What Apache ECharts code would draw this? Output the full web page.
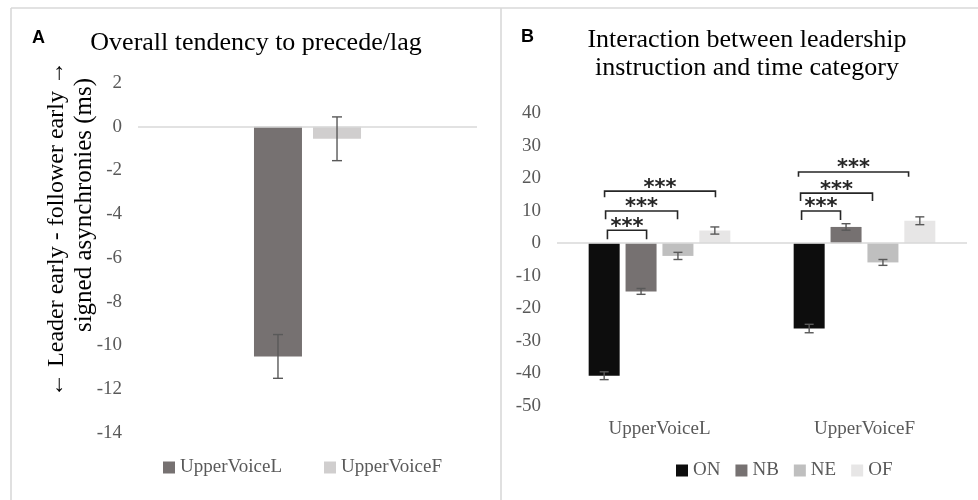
<!DOCTYPE html>
<html>
<head>
<meta charset="utf-8">
<script src="https://cdn.jsdelivr.net/npm/echarts@6/dist/echarts.min.js"></script>
<style>
html,body{margin:0;padding:0;background:#ffffff;}
#chart{width:978px;height:500px;}
</style>
</head>
<body>
<div id="chart"></div>
<script>
// ---------- Panel A data ----------
const panelACategories = [''];
const panelASeriesNames = ['UpperVoiceL', 'UpperVoiceF'];
const panelAMeans = [-10.5, -0.55];
const panelAErrors = [1.0, 1.0];
const panelAMin = -14, panelAMax = 2, panelAInterval = 2;

// ---------- Panel B data ----------
const panelBCategories = ['UpperVoiceL', 'UpperVoiceF'];
const panelBSeriesNames = ['ON', 'NB', 'NE', 'OF'];
const onMeans = [-40.7, -26.2];
const nbMeans = [-14.8, 5.0];
const neMeans = [-3.9, -5.9];
const ofMeans = [3.9, 6.9];
const onErrors = [1.2, 1.3];
const nbErrors = [0.9, 1.0];
const neErrors = [1.1, 0.9];
const ofErrors = [1.1, 1.2];
const panelBMin = -50, panelBMax = 40, panelBInterval = 10;

// ---------- Panel B significance brackets (category index, ends as fraction of category band, levels in ms) ----------
const sigCategory = [0, 0, 0, 1, 1, 1];
const sigFrom = [-0.254, -0.263, -0.268, -0.307, -0.312, -0.322];
const sigTo = [-0.063, 0.088, 0.273, -0.117, 0.039, 0.215];
const sigTop = [4.0, 9.9, 16.0, 9.9, 15.4, 21.9];
const sigLegEnd = [1.2, 7.4, 14.1, 7.1, 13.0, 20.4];
const sigLabels = ['***', '***', '***', '***', '***', '***'];

// ---------- Texts ----------
const titleA = 'Overall tendency to precede/lag';
const titleB = 'Interaction between leadership\ninstruction and time category';
const yNameLine1 = '\u2190 Leader early - follower early \u2192';
const yNameLine2 = 'signed asynchronies (ms)';

// ---------- Styles ----------
const SERIF = '"Liberation Serif", "Times New Roman", serif';
const GREY_TEXT = '#595959';
const colorsA = ['#767171', '#d0cece'];
const colorsB = ['#0d0d0d', '#767171', '#bfbfbf', '#e7e6e6'];
const barWA = 48, gapA = 0.23;
const barWB = 31, gapB = 0.19;

const panelBMeans = [onMeans, nbMeans, neMeans, ofMeans];
const panelBErrors = [onErrors, nbErrors, neErrors, ofErrors];

function errorBarRenderer(barWidth, barGap, nSeries, capWidth) {
  return function (params, api) {
    const cat = api.value(0), mean = api.value(1), err = api.value(2), slot = api.value(3);
    const c = api.coord([cat, mean]);
    const x = c[0] + (slot - (nSeries - 1) / 2) * barWidth * (1 + barGap);
    const hi = api.coord([cat, mean + err])[1];
    const lo = api.coord([cat, mean - err])[1];
    const style = { stroke: '#595959', lineWidth: 1.4 };
    return {
      type: 'group',
      children: [
        { type: 'line', shape: { x1: x, y1: hi, x2: x, y2: lo }, style: style },
        { type: 'line', shape: { x1: x - capWidth / 2, y1: hi, x2: x + capWidth / 2, y2: hi }, style: style },
        { type: 'line', shape: { x1: x - capWidth / 2, y1: lo, x2: x + capWidth / 2, y2: lo }, style: style }
      ]
    };
  };
}

function sigRenderer(params, api) {
  const cat = api.value(0), from = api.value(1), to = api.value(2), top = api.value(3), leg = api.value(4);
  const c = api.coord([cat, top]);
  const w = api.size([1, 0])[0];
  const x1 = c[0] + from * w, x2 = c[0] + to * w;
  const yTop = c[1];
  const yLeg = api.coord([cat, leg])[1];
  return {
    type: 'group',
    children: [
      { type: 'polyline', shape: { points: [[x1, yLeg], [x1, yTop], [x2, yTop], [x2, yLeg]] },
        style: { stroke: '#262626', lineWidth: 1.6, fill: 'none' } },
      { type: 'text', style: { x: (x1 + x2) / 2, y: yTop - 3, text: sigLabels[params.dataIndex],
        fontFamily: '"DejaVu Sans", sans-serif', fontSize: 21, fontWeight: 'bold', fill: '#262626',
        textAlign: 'center', textVerticalAlign: 'middle' } }
    ]
  };
}

const zeroLine = {
  silent: true, symbol: 'none', label: { show: false },
  lineStyle: { color: '#d9d9d9', width: 1.6, type: 'solid' },
  data: [{ yAxis: 0 }]
};

const series = [];
panelASeriesNames.forEach(function (name, i) {
  series.push({
    name: name, type: 'bar', xAxisIndex: 0, yAxisIndex: 0,
    data: [panelAMeans[i]], barWidth: barWA, barGap: (gapA * 100) + '%',
    itemStyle: { color: colorsA[i] },
    markLine: i === 0 ? zeroLine : undefined,
    z: 2
  });
});
series.push({
  type: 'custom', xAxisIndex: 0, yAxisIndex: 0, z: 5,
  renderItem: errorBarRenderer(barWA, gapA, panelASeriesNames.length, 10),
  data: panelAMeans.map(function (m, i) { return [0, m, panelAErrors[i], i]; })
});
panelBSeriesNames.forEach(function (name, s) {
  series.push({
    name: name, type: 'bar', xAxisIndex: 1, yAxisIndex: 1,
    data: panelBMeans[s], barWidth: barWB, barGap: (gapB * 100) + '%',
    itemStyle: { color: colorsB[s] },
    markLine: s === 0 ? zeroLine : undefined,
    z: 2
  });
});
const errB = [];
panelBSeriesNames.forEach(function (name, s) {
  panelBCategories.forEach(function (c, ci) {
    errB.push([ci, panelBMeans[s][ci], panelBErrors[s][ci], s]);
  });
});
series.push({
  type: 'custom', xAxisIndex: 1, yAxisIndex: 1, z: 5,
  renderItem: errorBarRenderer(barWB, gapB, panelBSeriesNames.length, 9),
  data: errB
});
series.push({
  type: 'custom', xAxisIndex: 1, yAxisIndex: 1, z: 6,
  renderItem: sigRenderer,
  data: sigCategory.map(function (c, i) { return [c, sigFrom[i], sigTo[i], sigTop[i], sigLegEnd[i]]; })
});

const frameStyle = { stroke: '#d9d9d9', lineWidth: 1.6 };

const option = {
  backgroundColor: '#ffffff',
  animation: false,
  title: [
    { text: titleA, left: 256, top: 29, textAlign: 'center', padding: 0,
      textStyle: { fontFamily: SERIF, fontSize: 26, fontWeight: 'normal', color: '#000000', lineHeight: 28 } },
    { text: titleB, left: 747, top: 26, textAlign: 'center', padding: 0,
      textStyle: { fontFamily: SERIF, fontSize: 26, fontWeight: 'normal', color: '#000000', lineHeight: 28 } }
  ],
  legend: [
    { data: panelASeriesNames, left: 163, top: 458, padding: 0, icon: 'rect',
      itemWidth: 12, itemHeight: 12, itemGap: 42,
      textStyle: { fontFamily: SERIF, fontSize: 19, color: GREY_TEXT } },
    { data: panelBSeriesNames, left: 676, top: 461, padding: 0, icon: 'rect',
      itemWidth: 12, itemHeight: 12, itemGap: 15,
      textStyle: { fontFamily: SERIF, fontSize: 19, color: GREY_TEXT } }
  ],
  grid: [
    { left: 138, width: 339, top: 83, height: 350 },
    { left: 557, width: 410, top: 113, height: 293 }
  ],
  xAxis: [
    { type: 'category', gridIndex: 0, data: panelACategories,
      axisLine: { show: false, onZero: false }, axisTick: { show: false }, axisLabel: { show: false } },
    { type: 'category', gridIndex: 1, data: panelBCategories,
      axisLine: { show: false, onZero: false }, axisTick: { show: false },
      axisLabel: { margin: 14, fontFamily: SERIF, fontSize: 19, color: GREY_TEXT } }
  ],
  yAxis: [
    { type: 'value', gridIndex: 0, min: panelAMin, max: panelAMax, interval: panelAInterval,
      axisLine: { show: false }, axisTick: { show: false }, splitLine: { show: false },
      axisLabel: { margin: 16, fontFamily: SERIF, fontSize: 19, color: GREY_TEXT } },
    { type: 'value', gridIndex: 1, min: panelBMin, max: panelBMax, interval: panelBInterval,
      axisLine: { show: false }, axisTick: { show: false }, splitLine: { show: false },
      axisLabel: { margin: 16, fontFamily: SERIF, fontSize: 19, color: GREY_TEXT } }
  ],
  graphic: [
    { type: 'line', shape: { x1: 11, y1: 8, x2: 978, y2: 8 }, style: frameStyle, silent: true },
    { type: 'line', shape: { x1: 11, y1: 8, x2: 11, y2: 500 }, style: frameStyle, silent: true },
    { type: 'line', shape: { x1: 501, y1: 8, x2: 501, y2: 500 }, style: frameStyle, silent: true },
    { type: 'text', x: 32, y: 38, silent: true,
      style: { text: 'A', fontFamily: '"Liberation Sans", Arial, sans-serif', fontWeight: 'bold', fontSize: 18,
        fill: '#000000', textAlign: 'left', textVerticalAlign: 'middle' } },
    { type: 'text', x: 521, y: 37, silent: true,
      style: { text: 'B', fontFamily: '"Liberation Sans", Arial, sans-serif', fontWeight: 'bold', fontSize: 18,
        fill: '#000000', textAlign: 'left', textVerticalAlign: 'middle' } },
    { type: 'text', x: 57, y: 229, rotation: Math.PI / 2, silent: true,
      style: { text: yNameLine1, fontFamily: SERIF, fontSize: 24, fill: '#000000',
        textAlign: 'center', textVerticalAlign: 'middle' } },
    { type: 'text', x: 84, y: 205, rotation: Math.PI / 2, silent: true,
      style: { text: yNameLine2, fontFamily: SERIF, fontSize: 25, fill: '#000000',
        textAlign: 'center', textVerticalAlign: 'middle' } }
  ],
  series: series
};

const chart = echarts.init(document.getElementById('chart'), null, { renderer: 'canvas' });
chart.setOption(option);
</script>
</body>
</html>
